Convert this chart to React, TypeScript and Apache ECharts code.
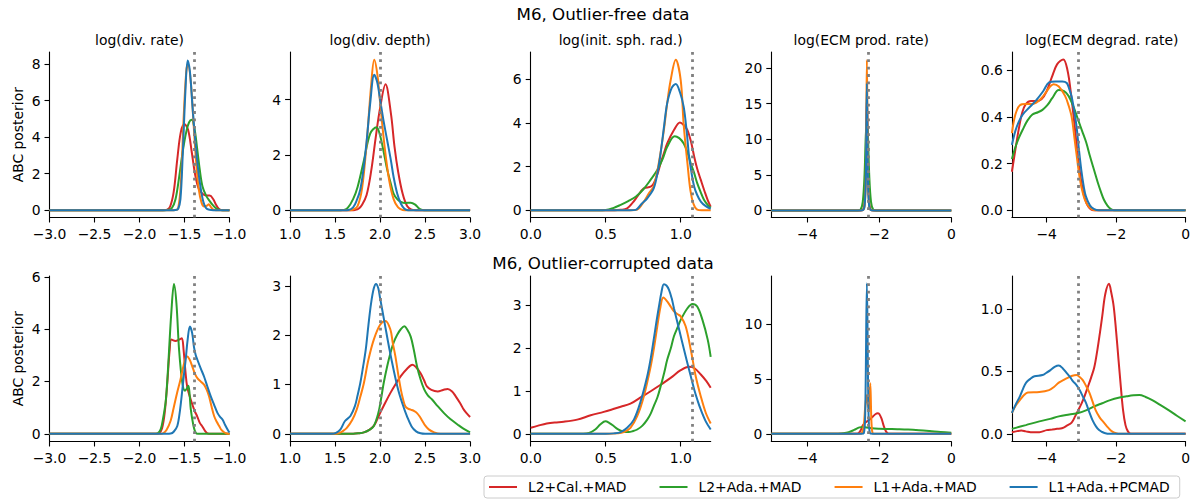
import React, { useEffect, useRef } from 'react';
import * as echarts from 'echarts';

type Pts = [number, number][];

// ---------- labels ----------
const SERIES_NAMES = ['L2+Cal.+MAD', 'L2+Ada.+MAD', 'L1+Ada.+MAD', 'L1+Ada.+PCMAD'];
const SERIES_COLORS = ['#d62728', '#2ca02c', '#ff7f0e', '#1f77b4'];
const PARAM_TITLES = ['log(div. rate)', 'log(div. depth)', 'log(init. sph. rad.)', 'log(ECM prod. rate)', 'log(ECM degrad. rate)'];
const ROW_TITLES = ['M6, Outlier-free data', 'M6, Outlier-corrupted data'];
const Y_LABEL = 'ABC posterior';
const TRUE_VALUES = [-1.386, 2.0, 1.076, -2.3, -3.09];

// ---------- axes ----------
const X_LIMITS = [[-3, -1], [1, 3], [0, 1.2], [-5, 0], [-5, 0]];
const X_TICKS = [[-3, -2.5, -2, -1.5, -1], [1, 1.5, 2, 2.5, 3], [0, 0.5, 1], [-4, -2, 0], [-4, -2, 0]];
const X_DECIMALS = [1, 1, 1, 0, 0];
const Y_LIMITS_FREE = [[-0.4, 8.66], [-0.265, 5.72], [-0.33, 7.24], [-1.0, 22.24], [-0.031, 0.678]];
const Y_TICKS_FREE = [[0, 2, 4, 6, 8], [0, 2, 4], [0, 2, 4, 6], [0, 5, 10, 15, 20], [0, 0.2, 0.4, 0.6]];
const Y_LIMITS_OUT = [[-0.293, 6.03], [-0.156, 3.2], [-0.179, 3.67], [-0.7, 14.35], [-0.061, 1.262]];
const Y_TICKS_OUT = [[0, 2, 4, 6], [0, 1, 2, 3], [0, 1, 2, 3], [0, 5, 10], [0, 0.5, 1]];
const Y_DECIMALS = [0, 0, 0, 0, 1];

// ---------- row 1: outlier-free ----------
const rateFreeRed: Pts = [[-3,0],[-1.8,0],[-1.74,0],[-1.7,0.02],[-1.66,0.2],[-1.62,1.0],[-1.58,2.8],[-1.54,4.3],[-1.5,4.7],[-1.46,4.4],[-1.42,3.2],[-1.38,1.9],[-1.34,1.15],[-1.3,0.9],[-1.26,0.8],[-1.22,0.8],[-1.18,0.6],[-1.15,0.3],[-1.12,0.08],[-1.09,0.01],[-1.05,0],[-1,0]];
const rateFreeGreen: Pts = [[-3,0],[-1.8,0],[-1.72,0],[-1.68,0.02],[-1.64,0.12],[-1.6,0.6],[-1.56,1.8],[-1.52,3.2],[-1.48,4.3],[-1.45,4.8],[-1.42,4.95],[-1.39,4.5],[-1.36,3.4],[-1.33,2.2],[-1.3,1.3],[-1.26,0.8],[-1.22,0.5],[-1.18,0.25],[-1.14,0.07],[-1.1,0.01],[-1.06,0],[-1,0]];
const rateFreeOrange: Pts = [[-3,0],[-1.75,0],[-1.65,0],[-1.6,0.01],[-1.57,0.1],[-1.54,1.5],[-1.51,5.0],[-1.48,7.6],[-1.46,8.0],[-1.43,7.0],[-1.4,4.8],[-1.37,2.6],[-1.34,1.1],[-1.31,0.4],[-1.28,0.2],[-1.25,0.25],[-1.23,0.32],[-1.21,0.2],[-1.18,0.03],[-1.15,0],[-1,0]];
const rateFreeBlue: Pts = [[-3,0],[-1.75,0],[-1.65,0],[-1.6,0.01],[-1.57,0.08],[-1.545,0.6],[-1.52,3.0],[-1.49,6.5],[-1.465,8.2],[-1.44,7.6],[-1.41,5.6],[-1.38,3.8],[-1.35,2.3],[-1.32,1.2],[-1.29,0.45],[-1.26,0.12],[-1.22,0.02],[-1.18,0],[-1,0]];

const depthFreeRed: Pts = [[1,0],[1.6,0],[1.68,0],[1.72,0.01],[1.76,0.05],[1.8,0.2],[1.85,0.55],[1.9,1.4],[1.95,2.6],[2.0,3.7],[2.06,4.55],[2.12,3.5],[2.16,2.3],[2.2,1.4],[2.25,0.6],[2.3,0.15],[2.35,0.02],[2.4,0],[2.5,0],[3,0]];
const depthFreeGreen: Pts = [[1,0],[1.5,0],[1.56,0],[1.6,0.01],[1.64,0.08],[1.7,0.4],[1.75,0.84],[1.82,1.8],[1.89,2.77],[1.96,3.0],[2.0,2.7],[2.04,2.1],[2.08,1.45],[2.12,0.95],[2.15,0.6],[2.19,0.4],[2.23,0.3],[2.28,0.26],[2.34,0.27],[2.39,0.2],[2.43,0.07],[2.47,0.01],[2.52,0],[2.6,0],[3,0]];
const depthFreeOrange: Pts = [[1,0],[1.6,0],[1.66,0],[1.7,0.02],[1.75,0.15],[1.8,0.8],[1.85,2.4],[1.9,4.5],[1.935,5.44],[1.97,4.9],[2.0,3.9],[2.05,2.3],[2.1,1.1],[2.15,0.4],[2.2,0.1],[2.25,0.01],[2.3,0],[2.4,0],[3,0]];
const depthFreeBlue: Pts = [[1,0],[1.55,0],[1.6,0],[1.65,0.01],[1.7,0.1],[1.74,0.35],[1.78,0.75],[1.82,1.6],[1.855,2.65],[1.89,3.86],[1.935,4.9],[1.97,4.6],[2.0,4.0],[2.04,3.2],[2.08,2.5],[2.12,1.8],[2.15,1.2],[2.19,0.6],[2.23,0.24],[2.27,0.05],[2.31,0],[2.4,0],[3,0]];

const sphFreeRed: Pts = [[0,0],[0.52,0],[0.56,0],[0.6,0.02],[0.643,0.09],[0.68,0.35],[0.71,0.62],[0.754,1.0],[0.8,1.08],[0.82,1.23],[0.845,1.65],[0.866,2.15],[0.89,2.65],[0.91,3.06],[0.955,3.67],[0.995,4.02],[1.02,3.9],[1.045,3.67],[1.07,3.1],[1.09,2.45],[1.11,1.9],[1.134,1.39],[1.16,0.85],[1.18,0.47],[1.2,0.17]];
const sphFreeGreen: Pts = [[0,0],[0.45,0],[0.5,0.01],[0.55,0.1],[0.6,0.25],[0.65,0.42],[0.7,0.62],[0.75,0.95],[0.8,1.4],[0.844,1.84],[0.88,2.35],[0.91,2.9],[0.96,3.39],[0.99,3.3],[1.02,3.06],[1.045,2.65],[1.067,2.15],[1.09,1.7],[1.11,1.24],[1.135,0.8],[1.156,0.47],[1.18,0.25],[1.2,0.12]];
const sphFreeOrange: Pts = [[0,0],[0.62,0],[0.67,0],[0.71,0.03],[0.75,0.35],[0.79,0.8],[0.82,1.1],[0.855,2.2],[0.888,3.67],[0.91,4.9],[0.933,5.95],[0.967,6.88],[1.0,5.95],[1.02,3.9],[1.045,2.15],[1.065,0.9],[1.085,0.3],[1.11,0.03],[1.14,0],[1.2,0]];
const sphFreeBlue: Pts = [[0,0],[0.6,0],[0.66,0],[0.7,0.02],[0.74,0.3],[0.777,0.55],[0.82,1.0],[0.845,1.7],[0.866,2.6],[0.89,3.9],[0.91,4.9],[0.94,5.6],[0.967,5.78],[0.995,5.4],[1.02,4.73],[1.04,3.6],[1.056,2.45],[1.075,1.6],[1.09,1.08],[1.11,0.7],[1.134,0.4],[1.165,0.2],[1.2,0.07]];

const prodFreeRed: Pts = [[-5,0],[-2.7,0],[-2.55,0],[-2.47,0.05],[-2.42,0.6],[-2.385,4],[-2.345,16],[-2.305,4],[-2.27,0.6],[-2.22,0.05],[-2.14,0],[-2.0,0],[0,0]];
const prodFreeGreen: Pts = [[-5,0],[-2.75,0],[-2.6,0],[-2.52,0.1],[-2.46,1.2],[-2.41,5],[-2.375,10.5],[-2.345,12.5],[-2.315,10.5],[-2.28,5],[-2.23,1.2],[-2.17,0.1],[-2.09,0],[-1.95,0],[0,0]];
const prodFreeOrange: Pts = [[-5,0],[-2.65,0],[-2.52,0],[-2.45,0.05],[-2.405,0.8],[-2.375,5],[-2.345,21.1],[-2.315,5],[-2.285,0.8],[-2.24,0.05],[-2.17,0],[-2.05,0],[0,0]];
const prodFreeBlue: Pts = [[-5,0],[-2.65,0],[-2.52,0],[-2.45,0.05],[-2.405,0.8],[-2.375,4.5],[-2.345,17.8],[-2.315,4.5],[-2.285,0.8],[-2.24,0.05],[-2.17,0],[-2.05,0],[0,0]];

const degFreeRed: Pts = [[-5,0.165],[-4.9,0.26],[-4.8,0.35],[-4.7,0.42],[-4.6,0.455],[-4.45,0.468],[-4.3,0.468],[-4.15,0.475],[-4.0,0.51],[-3.85,0.57],[-3.7,0.625],[-3.52,0.646],[-3.4,0.6],[-3.3,0.5],[-3.2,0.37],[-3.1,0.23],[-3.0,0.12],[-2.9,0.05],[-2.8,0.015],[-2.65,0],[-2.4,0],[0,0]];
const degFreeGreen: Pts = [[-5,0.22],[-4.9,0.27],[-4.8,0.31],[-4.69,0.345],[-4.55,0.385],[-4.41,0.41],[-4.25,0.42],[-4.12,0.43],[-3.98,0.45],[-3.84,0.48],[-3.65,0.515],[-3.5,0.51],[-3.37,0.49],[-3.23,0.445],[-3.09,0.386],[-2.98,0.34],[-2.86,0.29],[-2.75,0.23],[-2.63,0.17],[-2.53,0.12],[-2.44,0.08],[-2.35,0.045],[-2.25,0.02],[-2.15,0.005],[-2.05,0],[-1.8,0],[0,0]];
const degFreeOrange: Pts = [[-5,0.33],[-4.9,0.41],[-4.77,0.45],[-4.6,0.455],[-4.45,0.455],[-4.31,0.46],[-4.15,0.48],[-4.02,0.505],[-3.9,0.53],[-3.8,0.54],[-3.65,0.53],[-3.47,0.49],[-3.37,0.45],[-3.28,0.4],[-3.2,0.31],[-3.14,0.24],[-3.07,0.16],[-3.0,0.1],[-2.9,0.045],[-2.81,0.02],[-2.7,0.005],[-2.6,0],[-2.4,0],[0,0]];
const degFreeBlue: Pts = [[-5,0.28],[-4.9,0.34],[-4.8,0.38],[-4.69,0.41],[-4.5,0.44],[-4.31,0.47],[-4.1,0.51],[-3.93,0.548],[-3.75,0.552],[-3.55,0.552],[-3.42,0.545],[-3.35,0.52],[-3.28,0.486],[-3.2,0.42],[-3.14,0.36],[-3.07,0.26],[-3.0,0.17],[-2.93,0.1],[-2.87,0.06],[-2.75,0.02],[-2.63,0.005],[-2.5,0],[-2.3,0],[0,0]];

// ---------- row 2: outlier-corrupted ----------
const rateOutRed: Pts = [[-3,0],[-1.9,0],[-1.82,0],[-1.78,0.03],[-1.75,0.2],[-1.72,0.8],[-1.69,2.0],[-1.665,3.2],[-1.645,3.6],[-1.6,3.55],[-1.56,3.6],[-1.53,3.65],[-1.51,3.2],[-1.49,2.4],[-1.47,1.8],[-1.43,1.3],[-1.39,0.9],[-1.357,0.65],[-1.33,0.42],[-1.3,0.27],[-1.27,0.1],[-1.245,0.02],[-1.2,0],[-1,0]];
const rateOutGreen: Pts = [[-3,0],[-1.95,0],[-1.85,0],[-1.8,0.02],[-1.765,0.17],[-1.74,0.55],[-1.71,1.2],[-1.69,2.1],[-1.673,3.1],[-1.647,4.6],[-1.617,5.72],[-1.59,5.0],[-1.56,3.2],[-1.524,1.95],[-1.494,1.65],[-1.475,1.72],[-1.457,1.84],[-1.443,1.5],[-1.43,0.93],[-1.4,0.3],[-1.375,0.04],[-1.35,0],[-1.2,0],[-1,0]];
const rateOutOrange: Pts = [[-3,0],[-1.85,0],[-1.78,0],[-1.74,0.02],[-1.7,0.15],[-1.654,0.5],[-1.62,1.0],[-1.58,1.6],[-1.55,2.0],[-1.524,2.4],[-1.5,2.75],[-1.476,2.96],[-1.445,2.85],[-1.413,2.57],[-1.385,2.3],[-1.357,2.13],[-1.32,2.0],[-1.283,1.88],[-1.255,1.7],[-1.227,1.43],[-1.2,1.05],[-1.17,0.67],[-1.14,0.45],[-1.115,0.3],[-1.09,0.15],[-1.06,0.06],[-1.03,0.01],[-1,0]];
const rateOutBlue: Pts = [[-3,0],[-1.8,0],[-1.7,0],[-1.654,0.01],[-1.62,0.08],[-1.58,0.3],[-1.55,0.9],[-1.524,1.69],[-1.505,2.3],[-1.487,2.83],[-1.465,3.6],[-1.44,4.1],[-1.415,3.85],[-1.394,3.3],[-1.375,3.0],[-1.357,2.83],[-1.32,2.5],[-1.283,2.19],[-1.245,1.8],[-1.208,1.43],[-1.17,1.1],[-1.134,0.8],[-1.105,0.65],[-1.078,0.55],[-1.05,0.35],[-1.02,0.16],[-1,0.05]];

const depthOutRed: Pts = [[1,0],[1.6,0],[1.7,0],[1.76,0.01],[1.82,0.03],[1.88,0.08],[1.93,0.16],[1.97,0.3],[2.0,0.42],[2.06,0.64],[2.115,0.83],[2.17,1.0],[2.23,1.17],[2.3,1.32],[2.36,1.4],[2.4,1.35],[2.45,1.23],[2.49,1.08],[2.52,0.96],[2.57,0.89],[2.64,0.86],[2.7,0.89],[2.75,0.91],[2.8,0.86],[2.84,0.76],[2.89,0.62],[2.93,0.49],[2.97,0.4],[3.0,0.34]];
const depthOutGreen: Pts = [[1,0],[1.6,0],[1.7,0],[1.76,0.01],[1.82,0.03],[1.88,0.08],[1.93,0.16],[1.98,0.42],[2.01,0.7],[2.04,1.03],[2.08,1.38],[2.115,1.64],[2.15,1.85],[2.19,2.01],[2.23,2.12],[2.27,2.18],[2.3,2.12],[2.34,1.97],[2.375,1.7],[2.41,1.37],[2.45,1.1],[2.49,0.9],[2.53,0.78],[2.58,0.69],[2.64,0.56],[2.71,0.42],[2.78,0.3],[2.86,0.19],[2.93,0.1],[3.0,0.03]];
const depthOutOrange: Pts = [[1,0],[1.42,0],[1.5,0],[1.55,0.02],[1.59,0.06],[1.63,0.12],[1.69,0.28],[1.74,0.49],[1.78,0.75],[1.82,1.03],[1.87,1.5],[1.93,1.91],[2.0,2.21],[2.06,2.29],[2.115,2.11],[2.14,1.85],[2.17,1.57],[2.2,1.22],[2.23,0.9],[2.255,0.7],[2.28,0.56],[2.31,0.51],[2.34,0.49],[2.38,0.46],[2.41,0.42],[2.44,0.35],[2.47,0.26],[2.5,0.17],[2.54,0.09],[2.6,0.03],[2.67,0],[2.8,0],[3,0]];
const depthOutBlue: Pts = [[1,0],[1.4,0],[1.46,0],[1.51,0.02],[1.56,0.09],[1.61,0.26],[1.67,0.36],[1.72,0.56],[1.75,0.78],[1.78,1.03],[1.81,1.35],[1.84,1.7],[1.87,2.2],[1.9,2.65],[1.93,2.95],[1.955,3.04],[1.98,2.95],[2.0,2.75],[2.05,2.25],[2.1,1.75],[2.15,1.3],[2.2,0.9],[2.25,0.6],[2.3,0.35],[2.35,0.15],[2.4,0.05],[2.45,0.01],[2.5,0],[2.6,0],[3,0]];

const sphOutRed: Pts = [[0,0.14],[0.05,0.19],[0.107,0.24],[0.16,0.265],[0.22,0.28],[0.31,0.33],[0.4,0.43],[0.487,0.51],[0.545,0.57],[0.6,0.63],[0.665,0.7],[0.73,0.84],[0.8,0.99],[0.866,1.14],[0.933,1.3],[1.0,1.48],[1.056,1.56],[1.09,1.53],[1.134,1.38],[1.17,1.23],[1.2,1.07]];
const sphOutGreen: Pts = [[0,0],[0.3,0],[0.35,0],[0.39,0.02],[0.43,0.1],[0.465,0.22],[0.498,0.29],[0.525,0.25],[0.553,0.18],[0.58,0.11],[0.61,0.06],[0.654,0.04],[0.68,0.06],[0.71,0.1],[0.745,0.19],[0.777,0.33],[0.8,0.47],[0.82,0.64],[0.845,0.85],[0.866,1.1],[0.89,1.42],[0.91,1.72],[0.935,2.0],[0.955,2.27],[0.98,2.48],[1.0,2.65],[1.045,2.92],[1.078,3.02],[1.11,2.96],[1.145,2.65],[1.18,2.19],[1.2,1.79]];
const sphOutOrange: Pts = [[0,0],[0.45,0],[0.52,0],[0.576,0.01],[0.62,0.04],[0.665,0.14],[0.71,0.41],[0.754,0.87],[0.8,1.57],[0.822,2.0],[0.844,2.5],[0.865,2.95],[0.884,3.17],[0.91,3.08],[0.935,2.95],[0.955,2.85],[0.98,2.78],[1.0,2.73],[1.033,2.5],[1.067,1.96],[1.1,1.34],[1.134,0.87],[1.167,0.49],[1.2,0.24]];
const sphOutBlue: Pts = [[0,0],[0.45,0],[0.5,0],[0.553,0.01],[0.6,0.04],[0.643,0.14],[0.688,0.33],[0.73,0.72],[0.777,1.34],[0.8,1.75],[0.82,2.19],[0.838,2.6],[0.855,2.96],[0.872,3.3],[0.888,3.48],[0.905,3.45],[0.922,3.35],[0.94,3.15],[0.955,2.92],[0.99,2.42],[1.022,1.96],[1.056,1.49],[1.09,1.03],[1.112,0.78],[1.134,0.56],[1.167,0.29],[1.2,0.1]];

const prodOutRed: Pts = [[-5,0],[-2.75,0],[-2.65,0],[-2.58,0.05],[-2.52,0.3],[-2.46,0.75],[-2.4,1.0],[-2.33,1.15],[-2.25,1.35],[-2.17,1.6],[-2.1,1.8],[-2.05,1.87],[-2.0,1.8],[-1.94,1.4],[-1.88,0.75],[-1.82,0.25],[-1.77,0.05],[-1.72,0],[-1.6,0],[0,0]];
const prodOutGreen: Pts = [[-5,0],[-3.3,0],[-3.15,0.01],[-3.0,0.05],[-2.85,0.15],[-2.7,0.35],[-2.55,0.58],[-2.45,0.62],[-2.35,0.57],[-2.2,0.5],[-2.0,0.46],[-1.8,0.44],[-1.5,0.42],[-1.2,0.39],[-0.9,0.33],[-0.6,0.25],[-0.3,0.16],[0,0.09]];
const prodOutOrange: Pts = [[-5,0],[-2.65,0],[-2.55,0],[-2.48,0.1],[-2.43,0.8],[-2.39,2.5],[-2.35,3.5],[-2.31,2.5],[-2.28,2.2],[-2.25,4.6],[-2.22,1.2],[-2.19,0.1],[-2.14,0],[-2.05,0],[0,0]];
const prodOutBlue: Pts = [[-5,0],[-2.6,0],[-2.5,0],[-2.43,0.05],[-2.39,2],[-2.345,13.7],[-2.3,2],[-2.26,0.05],[-2.19,0],[-2.1,0],[0,0]];

const degOutRed: Pts = [[-5,0.013],[-4.85,0.022],[-4.73,0.027],[-4.6,0.02],[-4.4,0.012],[-4.21,0.013],[-4.0,0.03],[-3.84,0.035],[-3.7,0.04],[-3.56,0.045],[-3.42,0.065],[-3.28,0.09],[-3.18,0.14],[-3.09,0.19],[-3.0,0.24],[-2.91,0.3],[-2.82,0.37],[-2.72,0.45],[-2.63,0.53],[-2.54,0.67],[-2.47,0.8],[-2.4,0.94],[-2.31,1.12],[-2.205,1.2],[-2.14,1.13],[-2.07,1.02],[-2.0,0.82],[-1.93,0.59],[-1.865,0.38],[-1.8,0.19],[-1.73,0.07],[-1.66,0.02],[-1.58,0],[-1.4,0],[0,0]];
const degOutGreen: Pts = [[-5,0.04],[-4.6,0.07],[-4.21,0.1],[-3.9,0.12],[-3.65,0.14],[-3.35,0.155],[-3.09,0.167],[-2.85,0.19],[-2.63,0.22],[-2.4,0.245],[-2.17,0.27],[-1.9,0.29],[-1.7,0.3],[-1.5,0.308],[-1.33,0.31],[-1.15,0.295],[-0.96,0.27],[-0.72,0.23],[-0.49,0.19],[-0.25,0.145],[0,0.1]];
const degOutOrange: Pts = [[-5,0.167],[-4.88,0.23],[-4.77,0.27],[-4.65,0.31],[-4.54,0.33],[-4.21,0.334],[-3.93,0.35],[-3.79,0.375],[-3.65,0.41],[-3.52,0.43],[-3.38,0.45],[-3.26,0.465],[-3.14,0.47],[-3.05,0.455],[-2.96,0.43],[-2.86,0.38],[-2.77,0.33],[-2.68,0.26],[-2.59,0.19],[-2.47,0.13],[-2.35,0.09],[-2.23,0.05],[-2.12,0.02],[-2.0,0.005],[-1.89,0],[-1.7,0],[0,0]];
const degOutBlue: Pts = [[-5,0.167],[-4.9,0.23],[-4.77,0.3],[-4.68,0.36],[-4.59,0.41],[-4.47,0.44],[-4.35,0.46],[-4.12,0.47],[-4.0,0.49],[-3.89,0.51],[-3.77,0.535],[-3.65,0.546],[-3.54,0.525],[-3.42,0.485],[-3.33,0.455],[-3.24,0.42],[-3.14,0.39],[-3.05,0.35],[-2.96,0.3],[-2.87,0.25],[-2.78,0.18],[-2.68,0.11],[-2.58,0.06],[-2.49,0.03],[-2.4,0.015],[-2.31,0.005],[-2.2,0],[-1.9,0],[0,0]];

const ROW_FREE: Pts[][] = [
  [rateFreeRed, rateFreeGreen, rateFreeOrange, rateFreeBlue],
  [depthFreeRed, depthFreeGreen, depthFreeOrange, depthFreeBlue],
  [sphFreeRed, sphFreeGreen, sphFreeOrange, sphFreeBlue],
  [prodFreeRed, prodFreeGreen, prodFreeOrange, prodFreeBlue],
  [degFreeRed, degFreeGreen, degFreeOrange, degFreeBlue],
];
const ROW_OUT: Pts[][] = [
  [rateOutRed, rateOutGreen, rateOutOrange, rateOutBlue],
  [depthOutRed, depthOutGreen, depthOutOrange, depthOutBlue],
  [sphOutRed, sphOutGreen, sphOutOrange, sphOutBlue],
  [prodOutRed, prodOutGreen, prodOutOrange, prodOutBlue],
  [degOutRed, degOutGreen, degOutOrange, degOutBlue],
];

// ---------- layout ----------
const COL_LEFT = [49.5, 290.1, 530.7, 771.3, 1011.9];
const PANEL_W = 180;
const ROW_TOP = [52, 276];
const PANEL_H = 165.5;
const FONT = 'DejaVu Sans';
const TICK_FS = 13.9;

const fmt = (dec: number) => (v: number) => v.toFixed(dec).replace('-', '\u2212');

function buildOption() {
  const grid: any[] = [];
  const xAxis: any[] = [];
  const yAxis: any[] = [];
  const series: any[] = [];
  const graphic: any[] = [];
  const rows = [ROW_FREE, ROW_OUT];
  const yLims = [Y_LIMITS_FREE, Y_LIMITS_OUT];
  const yTicks = [Y_TICKS_FREE, Y_TICKS_OUT];
  const dotStyle = { color: '#808080', type: [2.8, 4.6], width: 2.8, opacity: 1, cap: 'butt' };

  for (let r = 0; r < 2; r++) {
    for (let c = 0; c < 5; c++) {
      const idx = r * 5 + c;
      grid.push({ left: COL_LEFT[c], top: ROW_TOP[r], width: PANEL_W, height: PANEL_H, containLabel: false });
      const axisCommon = {
        axisLine: { show: true, onZero: false, lineStyle: { color: '#000', width: 1.1 } },
        splitLine: { show: false },
      };
      xAxis.push({
        type: 'value', gridIndex: idx, min: X_LIMITS[c][0], max: X_LIMITS[c][1],
        ...axisCommon,
        axisTick: { show: true, length: 5, lineStyle: { color: '#000', width: 1.1 }, customValues: X_TICKS[c] },
        axisLabel: { customValues: X_TICKS[c], formatter: fmt(X_DECIMALS[c]), margin: 9, color: '#000', fontSize: TICK_FS, fontFamily: FONT },
      });
      yAxis.push({
        type: 'value', gridIndex: idx, min: yLims[r][c][0], max: yLims[r][c][1],
        ...axisCommon,
        axisTick: { show: true, length: 5, lineStyle: { color: '#000', width: 1.1 }, customValues: yTicks[r][c] },
        axisLabel: { customValues: yTicks[r][c], formatter: fmt(Y_DECIMALS[c]), margin: 9, color: '#000', fontSize: TICK_FS, fontFamily: FONT },
      });
      rows[r][c].forEach((pts, k) => {
        const s: any = {
          type: 'line', name: SERIES_NAMES[k], xAxisIndex: idx, yAxisIndex: idx,
          data: pts, showSymbol: false, symbol: 'none', smooth: 0.35,
          lineStyle: { color: SERIES_COLORS[k], width: 2 }, itemStyle: { color: SERIES_COLORS[k] },
          z: 2 + k, silent: true,
        };
        if (k === 3) {
          s.markLine = {
            silent: true, symbol: ['none', 'none'], label: { show: false }, z: 10,
            lineStyle: dotStyle,
            emphasis: { disabled: true },
            data: [{ xAxis: TRUE_VALUES[c], lineStyle: dotStyle }],
          };
        }
        series.push(s);
      });
    }
  }

  const txt = (text: string, x: number, y: number, fs: number, rot = 0) => ({
    type: 'text', x, y, rotation: rot, silent: true,
    style: { text, fill: '#000', font: `${fs}px "${FONT}"`, fontSize: fs, fontFamily: FONT,
      align: 'center', verticalAlign: 'middle', textAlign: 'center', textVerticalAlign: 'middle' },
  });
  graphic.push(txt(ROW_TITLES[0], 603, 14, 16.7));
  graphic.push(txt(ROW_TITLES[1], 603, 262.5, 16.7));
  PARAM_TITLES.forEach((t, c) => graphic.push(txt(t, COL_LEFT[c] + PANEL_W / 2, 39.5, TICK_FS)));
  graphic.push(txt(Y_LABEL, 17.5, ROW_TOP[0] + PANEL_H / 2, TICK_FS, Math.PI / 2));
  graphic.push(txt(Y_LABEL, 17.5, ROW_TOP[1] + PANEL_H / 2, TICK_FS, Math.PI / 2));

  return {
    animation: false,
    backgroundColor: '#ffffff',
    textStyle: { fontFamily: FONT },
    grid, xAxis, yAxis, series, graphic,
    legend: {
      data: SERIES_NAMES, left: 484, top: 476, orient: 'horizontal',
      icon: 'rect', itemWidth: 28, itemHeight: 2, itemGap: 33,
      padding: [4, 10, 4, 5],
      borderColor: '#cccccc', borderWidth: 1, borderRadius: 3, backgroundColor: 'rgba(255,255,255,0.8)',
      textStyle: { fontSize: TICK_FS, color: '#000', fontFamily: FONT, padding: [0, 0, 0, 6] },
      selectedMode: false,
    },
  };
}

export default function App() {
  const ref = useRef<HTMLDivElement>(null);
  useEffect(() => {
    document.body.style.margin = '0';
    if (!ref.current) return;
    const chart = echarts.init(ref.current, undefined, { renderer: 'svg' });
    chart.setOption(buildOption() as any);
    return () => chart.dispose();
  }, []);
  return <div ref={ref} style={{ width: 1193, height: 501 }} />;
}
